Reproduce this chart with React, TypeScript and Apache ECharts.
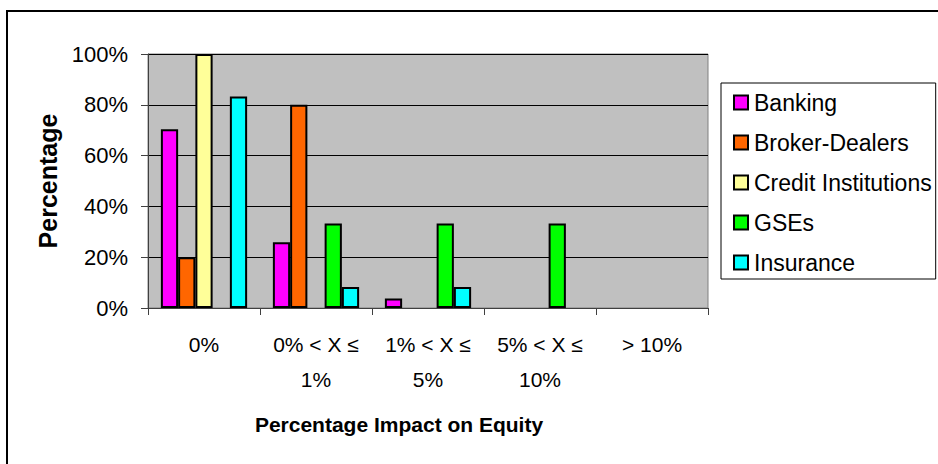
import React, { useEffect, useRef } from "react";
import * as echarts from "echarts";

const categories = ["0%", "0% < X ≤\n1%", "1% < X ≤\n5%", "5% < X ≤\n10%", "> 10%"];
const seriesNames = ["Banking", "Broker-Dealers", "Credit Institutions", "GSEs", "Insurance"];
const banking = [0.704, 0.259, 0.037, 0, 0];
const brokerDealers = [0.2, 0.8, 0, 0, 0];
const creditInstitutions = [1.0, 0, 0, 0, 0];
const gses = [0, 0.333, 0.333, 0.333, 0];
const insurance = [0.833, 0.083, 0.083, 0, 0];
const seriesColors = ["#FF00FF", "#FF6600", "#FFFF99", "#00FF00", "#00FFFF"];
const yTicks = [0, 0.2, 0.4, 0.6, 0.8, 1.0];

export default function App() {
  const ref = useRef<HTMLDivElement>(null);
  useEffect(() => {
    if (!ref.current) return;
    const chart = echarts.init(ref.current, null, { renderer: "svg" });
    const values = [banking, brokerDealers, creditInstitutions, gses, insurance];
    const font = "'Liberation Sans', Arial, sans-serif";
    chart.setOption({
      animation: false,
      backgroundColor: "#ffffff",
      textStyle: { fontFamily: font },
      graphic: [
        {
          type: "rect",
          silent: true,
          z: -10,
          shape: { x: 7, y: 11, width: 1000, height: 1000 },
          style: { fill: "none", stroke: "#000000", lineWidth: 2 },
        },
      ],
      grid: {
        left: 148,
        right: 230,
        top: 54,
        bottom: 156,
        show: true,
        backgroundColor: "#C0C0C0",
        borderColor: "#808080",
        borderWidth: 1,
      },
      legend: {
        orient: "vertical",
        left: 721,
        top: 83,
        data: seriesNames,
        icon: "rect",
        itemWidth: 14,
        itemHeight: 14,
        itemGap: 17,
        padding: [8, 4, 5, 12],
        borderColor: "#000000",
        borderWidth: 1,
        backgroundColor: "#ffffff",
        textStyle: {
          fontSize: 23,
          color: "#000000",
          fontFamily: font,
          lineHeight: 23,
          padding: [0, 0, 0, 1],
        },
      },
      xAxis: {
        type: "category",
        data: categories,
        name: "Percentage Impact on Equity",
        nameLocation: "middle",
        nameGap: 106,
        nameTextStyle: {
          fontSize: 21,
          fontWeight: "bold",
          color: "#000000",
          fontFamily: font,
          padding: [0, 58, 0, 0],
        },
        axisLine: { show: true, lineStyle: { color: "#404040", width: 1 } },
        axisTick: { show: true, length: 7, lineStyle: { color: "#404040" } },
        axisLabel: {
          fontSize: 21,
          color: "#000000",
          fontFamily: font,
          lineHeight: 35,
          margin: 19,
          interval: 0,
        },
        splitLine: { show: false },
      },
      yAxis: {
        type: "value",
        min: 0,
        max: 1,
        interval: 0.2,
        name: "Percentage",
        nameLocation: "middle",
        nameGap: 86,
        nameRotate: 90,
        nameTextStyle: { fontSize: 25, fontWeight: "bold", color: "#000000", fontFamily: font },
        axisLine: { show: true, lineStyle: { color: "#404040", width: 1 } },
        axisTick: { show: true, length: 7, lineStyle: { color: "#404040" } },
        axisLabel: {
          fontSize: 22,
          color: "#000000",
          fontFamily: font,
          margin: 20,
          formatter: (v: number) => {
            const t = yTicks.find((x) => Math.abs(x - v) < 1e-9);
            return Math.round((t ?? v) * 100) + "%";
          },
        },
        splitLine: { show: true, lineStyle: { color: "#000000", width: 1 } },
      },
      series: seriesNames.map((name, i) => ({
        name,
        type: "bar",
        data: values[i].map((v) => (v === 0 ? "-" : v)),
        barGap: "0%",
        barCategoryGap: "23%",
        itemStyle: { color: seriesColors[i], borderColor: "#000000", borderWidth: 2 },
      })),
    });
    return () => chart.dispose();
  }, []);
  return (
    <div
      ref={ref}
      style={{ position: "absolute", left: 0, top: 0, width: 938, height: 464 }}
    />
  );
}
